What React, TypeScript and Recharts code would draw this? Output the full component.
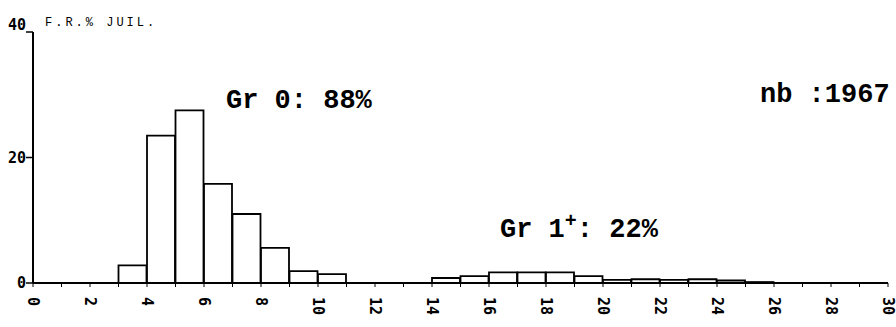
import React from "react"
import { BarChart, Bar, XAxis, YAxis } from "recharts"

// bin left edges (age / size classes) and frequency in %
const binStarts = [0, 1, 2, 3, 4, 5, 6, 7, 8, 9, 10, 11, 12, 13, 14, 15, 16, 17, 18, 19, 20, 21, 22, 23, 24, 25, 26, 27, 28, 29]
const frequencies = [0, 0, 0, 2.8, 23.5, 27.5, 15.8, 11, 5.6, 1.9, 1.4, 0, 0, 0, 0.8, 1.1, 1.7, 1.7, 1.7, 1.1, 0.5, 0.6, 0.5, 0.6, 0.4, 0.15, 0, 0, 0, 0]
const xTicks = [0, 1, 2, 3, 4, 5, 6, 7, 8, 9, 10, 11, 12, 13, 14, 15, 16, 17, 18, 19, 20, 21, 22, 23, 24, 25, 26, 27, 28, 29, 30]
const yTicks = [0, 20, 40]

const data = binStarts.map((start, i) => ({ mid: start + 0.5, pct: frequencies[i] }))

const W = 896
const H = 327

const mono = "'Liberation Mono', 'DejaVu Sans Mono', monospace"

function XTick(props: any) {
  const { x, y, payload } = props
  const v = payload.value
  return (
    <g>
      <line x1={x} y1={y} x2={x} y2={y + 4} stroke="#000" strokeWidth={1} />
      {v % 2 === 0 && (
        <text
          x={x}
          y={y + 14}
          transform={`rotate(90, ${x}, ${y + 14})`}
          textAnchor="start"
          dominantBaseline="central"
          fontFamily="'DejaVu Sans Mono', monospace"
          fontWeight="bold"
          fontSize={15}
          fill="#000"
        >
          {v}
        </text>
      )}
    </g>
  )
}

function YTick(props: any) {
  const { x, y, payload } = props
  return (
    <g>
      <line x1={x - 7} y1={y} x2={x} y2={y} stroke="#000" strokeWidth={1.5} />
      <text
        x={x - 7}
        y={payload.value === 40 ? y - 7 : y}
        textAnchor="end"
        dominantBaseline="central"
        fontFamily="'DejaVu Sans Mono', monospace"
        fontWeight="bold"
        fontSize={15}
        fill="#000"
      >
        {payload.value}
      </text>
    </g>
  )
}

export default function App() {
  return (
    <div style={{ position: "relative", width: W, height: H, background: "#fff" }}>
      <style>{`body{margin:0;background:#fff}`}</style>
      <BarChart
        width={W}
        height={H}
        data={data}
        barCategoryGap={0}
        barGap={0}
        margin={{ top: 32, right: 8, bottom: 0, left: 0 }}
      >
        <XAxis
          dataKey="mid"
          type="number"
          domain={[0, 30]}
          ticks={xTicks}
          interval={0}
          height={44}
          axisLine={{ stroke: "#000", strokeWidth: 2 }}
          tickLine={false}
          tickSize={0}
          tickMargin={0}
          tick={<XTick />}
        />
        <YAxis
          type="number"
          domain={[0, 40]}
          ticks={yTicks}
          width={33}
          axisLine={{ stroke: "#000", strokeWidth: 2 }}
          tickLine={false}
          tickSize={0}
          tickMargin={0}
          tick={<YTick />}
        />
        <Bar
          dataKey="pct"
          fill="#fff"
          stroke="#000"
          strokeWidth={1.8}
          isAnimationActive={false}
        />
      </BarChart>
      <div style={{ position: "absolute", left: 45, top: 16, fontFamily: mono, fontSize: 12, letterSpacing: 3 }}>
        F.R.% JUIL.
      </div>
      <div style={{ position: "absolute", left: 226, top: 86, fontFamily: mono, fontSize: 27, fontWeight: "bold", whiteSpace: "pre" }}>
        Gr 0: 88%
      </div>
      <div style={{ position: "absolute", left: 760, top: 80, fontFamily: mono, fontSize: 27, fontWeight: "bold", whiteSpace: "pre" }}>
        nb :1967
      </div>
      <div style={{ position: "absolute", left: 500, top: 210, fontFamily: mono, fontSize: 27, fontWeight: "bold", whiteSpace: "pre" }}>
        Gr 1<sup style={{ fontSize: 20 }}>+</sup>: 22%
      </div>
    </div>
  )
}
